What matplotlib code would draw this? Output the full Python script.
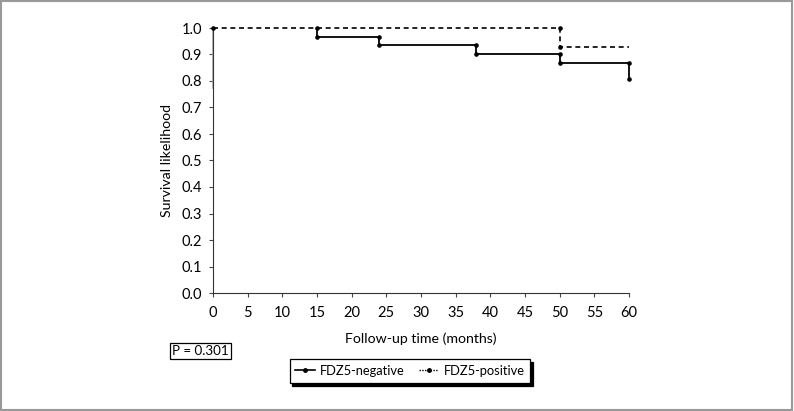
import matplotlib
matplotlib.use("Agg")
import matplotlib.pyplot as plt
from matplotlib.lines import Line2D
from matplotlib.patches import Rectangle

plt.rcParams['font.family'] = ['Lato', 'DejaVu Sans']

# Data (Kaplan-Meier steps)
neg_time = [15, 15, 24, 24, 38, 38, 50, 50, 60, 60]
neg_surv = [1.0, 0.967, 0.967, 0.935, 0.935, 0.903, 0.903, 0.867, 0.867, 0.806]
pos_time = [0, 50, 50, 60]
pos_surv = [1.0, 1.0, 0.929, 0.929]
pos_marker_idx = [0, 1, 2]

x_ticks = list(range(0, 61, 5))
y_ticks = [i / 10 for i in range(0, 11)]
series_labels = ["FDZ5-negative", "FDZ5-positive"]
p_text = "P = 0.301"

fig = plt.figure(figsize=(7.94, 4.11), dpi=100)
ax = fig.add_axes([213 / 794, 1 - 293 / 411, (629 - 213) / 794, (293 - 28) / 411])

ax.plot(pos_time, pos_surv, color='black', lw=1.2, dashes=(3, 2.2),
        marker='o', markersize=2.3, markevery=pos_marker_idx, clip_on=False, zorder=3)
ax.plot(neg_time, neg_surv, color='black', lw=1.3, marker='o', markersize=2.3,
        clip_on=False, zorder=4)

ax.set_xlim(0, 60)
ax.set_ylim(0, 1.0)
ax.set_xticks(x_ticks)
ax.set_yticks(y_ticks)
ax.set_yticklabels([f"{v:.1f}" for v in y_ticks])
ax.tick_params(axis='both', direction='out', length=3, width=0.8, labelsize=10.5,
               color='#444444', pad=5)
ax.tick_params(axis='x', pad=6)
for s in ['top', 'right']:
    ax.spines[s].set_visible(False)
ax.spines['left'].set_color('#333333')
ax.spines['bottom'].set_color('#333333')
# grey upper part of y axis line, as in the reference
ax.plot([0, 0], [0.775, 1.0], color='#aaaaaa', lw=1.2, clip_on=False, zorder=2.5)

ax.set_xlabel("Follow-up time (months)", fontsize=10.2, labelpad=9)
ax.set_ylabel("Survival likelihood", fontsize=10.2, labelpad=6)

fig.text(200.5 / 794, 1 - 351 / 411, p_text, fontsize=9.6, ha='center', va='center',
         bbox=dict(boxstyle='square,pad=0.15', facecolor='white', edgecolor='black', lw=0.9))

handles = [
    Line2D([], [], color='black', lw=1.2, marker='o', markersize=2.5),
    Line2D([], [], color='black', lw=1.0, linestyle=(0, (1, 1)), marker='o', markersize=2.5),
]
leg = fig.legend(handles, series_labels, loc='center', bbox_to_anchor=(410 / 794, 1 - 371 / 411),
                 ncol=2, fontsize=9.3, frameon=True, fancybox=False,
                 shadow={'color': 'black', 'alpha': 1.0},
                 edgecolor='black', handlelength=1.5, handletextpad=0.4,
                 columnspacing=1.1, borderpad=0.45)
leg.get_frame().set_linewidth(0.9)

fig.patches.append(Rectangle((0.001, 0.002), 0.997, 0.996, transform=fig.transFigure,
                             fill=False, edgecolor='#999999', lw=1.5))

fig.savefig("out.png", dpi=100)
